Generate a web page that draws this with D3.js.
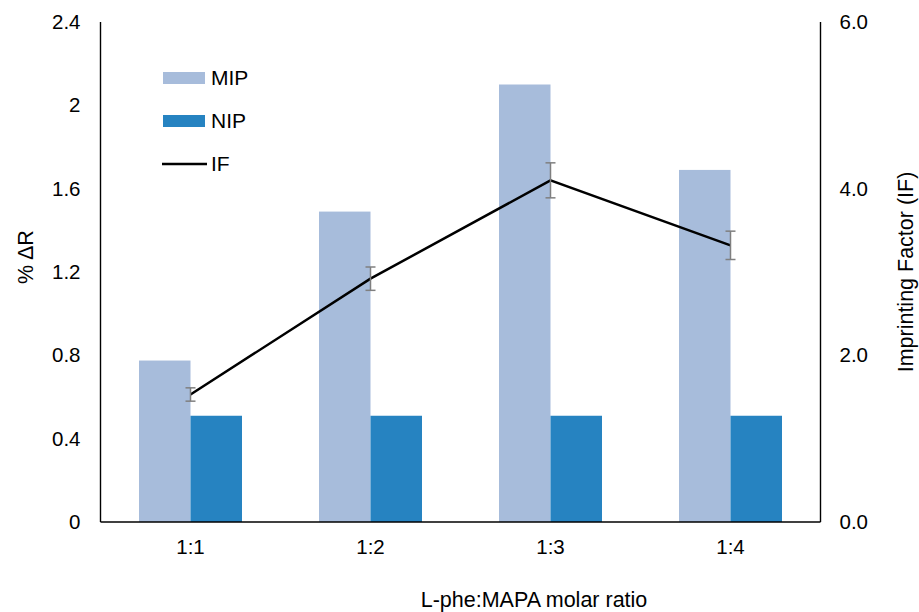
<!DOCTYPE html>
<html>
<head>
<meta charset="utf-8">
<script src="https://cdn.jsdelivr.net/npm/d3@7"></script>
<style>
  html, body { margin: 0; padding: 0; background: #fff; }
  svg { display: block; font-family: "Liberation Sans", Arial, sans-serif; }
</style>
</head>
<body>
<svg id="chart" width="919" height="612"></svg>
<script>
const categories = ["1:1", "1:2", "1:3", "1:4"];
const mipValues = [0.775, 1.49, 2.10, 1.69];
const nipValues = [0.51, 0.51, 0.51, 0.51];
const ifValues = [1.53, 2.92, 4.10, 3.32];
const ifErrors = [0.08, 0.14, 0.21, 0.17];
const leftTicks = [0, 0.4, 0.8, 1.2, 1.6, 2, 2.4];
const rightTicks = [0, 2, 4, 6];

const svg = d3.select("#chart");
const L = 100.5, R = 820.5, T = 22, B = 522;
const FONT = "Liberation Sans, Arial, sans-serif";

const x0 = d3.scaleBand().domain(categories).range([L, R]).padding(0);
const bw = x0.bandwidth();
const x1 = d3.scaleBand().domain(["MIP", "NIP"]).range([bw / 2 - 51.5, bw / 2 + 51.5]).padding(0);
const yL = d3.scaleLinear().domain([0, 2.4]).range([B, T]);
const yR = d3.scaleLinear().domain([0, 6]).range([B, T]);

const colors = { MIP: "#A7BCDB", NIP: "#2683C1" };

// bars
const groups = svg.append("g").selectAll("g").data(categories).join("g")
  .attr("transform", d => `translate(${x0(d)},0)`);
groups.append("rect")
  .attr("x", x1("MIP")).attr("width", x1.bandwidth())
  .attr("y", (d, i) => yL(mipValues[i])).attr("height", (d, i) => B - yL(mipValues[i]))
  .attr("fill", colors.MIP);
groups.append("rect")
  .attr("x", x1("NIP")).attr("width", x1.bandwidth())
  .attr("y", (d, i) => yL(nipValues[i])).attr("height", (d, i) => B - yL(nipValues[i]))
  .attr("fill", colors.NIP);

const axisColor = "#000";
const leftAxis = d3.axisLeft(yL).tickValues(leftTicks).tickSize(0).tickPadding(20)
  .tickFormat(d => d3.format("")(d));
const gL = svg.append("g").attr("transform", `translate(${L},0)`).call(leftAxis);
gL.select(".domain").attr("stroke", axisColor).attr("stroke-width", 1.4).attr("d", `M0,${T}V${B}`);
gL.selectAll("text").attr("font-size", 20.5).attr("fill", "#000").attr("font-family", FONT);

const rightAxis = d3.axisRight(yR).tickValues(rightTicks).tickSize(0).tickPadding(19)
  .tickFormat(d3.format(".1f"));
const gR = svg.append("g").attr("transform", `translate(${R},0)`).call(rightAxis);
gR.select(".domain").attr("stroke", axisColor).attr("stroke-width", 1.4).attr("d", `M0,${T}V${B}`);
gR.selectAll("text").attr("font-size", 20.5).attr("fill", "#000").attr("font-family", FONT);

const bottomAxis = d3.axisBottom(x0).tickSize(0).tickPadding(17);
const gB = svg.append("g").attr("transform", `translate(0,${B})`).call(bottomAxis);
gB.select(".domain").attr("stroke", axisColor).attr("stroke-width", 1.4).attr("d", `M${L},0H${R}`);
gB.selectAll("text").attr("font-size", 20.5).attr("fill", "#000").attr("font-family", FONT);

// IF line
const cx = d => x0(d) + bw / 2;
const line = d3.line().x((d, i) => cx(categories[i])).y(d => yR(d));
svg.append("path").datum(ifValues).attr("d", line)
  .attr("fill", "none").attr("stroke", "#000").attr("stroke-width", 2.5).attr("stroke-linejoin", "miter");

// error bars
const eb = svg.append("g").attr("stroke", "#7F7F7F").attr("stroke-width", 1.5);
categories.forEach((c, i) => {
  const xc = cx(c);
  const y1 = yR(ifValues[i] + ifErrors[i]), y2 = yR(ifValues[i] - ifErrors[i]);
  eb.append("line").attr("x1", xc).attr("x2", xc).attr("y1", y1).attr("y2", y2);
  eb.append("line").attr("x1", xc - 5).attr("x2", xc + 5).attr("y1", y1).attr("y2", y1);
  eb.append("line").attr("x1", xc - 5).attr("x2", xc + 5).attr("y1", y2).attr("y2", y2);
});

// axis titles
svg.append("text").attr("x", 534).attr("y", 607).attr("text-anchor", "middle")
  .attr("font-size", 21.5).attr("fill", "#000").text("L-phe:MAPA molar ratio");
svg.append("text").attr("transform", "translate(33,257) rotate(-90)").attr("text-anchor", "middle")
  .attr("font-size", 21.5).attr("fill", "#000").text("% ΔR");
svg.append("text").attr("transform", "translate(913,272) rotate(-90)").attr("text-anchor", "middle")
  .attr("font-size", 21.5).attr("fill", "#000").text("Imprinting Factor (IF)");

// legend
const leg = svg.append("g");
const legendItems = [
  { name: "MIP", type: "rect", color: colors.MIP, y: 78 },
  { name: "NIP", type: "rect", color: colors.NIP, y: 121 },
  { name: "IF", type: "line", color: "#000", y: 164 }
];
legendItems.forEach(it => {
  if (it.type === "rect") {
    leg.append("rect").attr("x", 163).attr("y", it.y - 6).attr("width", 42).attr("height", 12).attr("fill", it.color);
  } else {
    leg.append("line").attr("x1", 162).attr("x2", 207).attr("y1", it.y).attr("y2", it.y)
      .attr("stroke", it.color).attr("stroke-width", 2.5);
  }
  leg.append("text").attr("x", 211).attr("y", it.y).attr("dy", "0.35em")
    .attr("font-size", 21).attr("fill", "#000").text(it.name);
});
</script>
</body>
</html>
